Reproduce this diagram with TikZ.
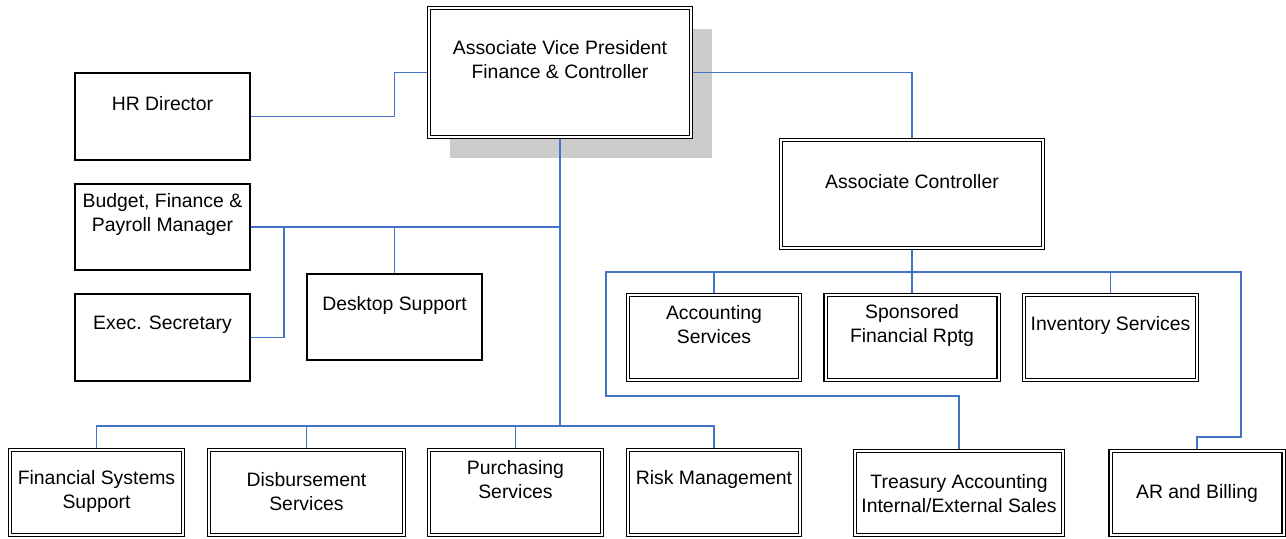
\documentclass[tikz,border=0pt]{standalone}
\usepackage{fontspec}
\setmainfont{Liberation Sans}
\usetikzlibrary{shadows, calc}
\definecolor{orgblue}{RGB}{68,114,196}
\tikzstyle{link}=[draw=orgblue, line width=0.7pt]
\tikzstyle{trunk}=[draw=orgblue, line width=1.1pt]

\begin{document}
\begin{tikzpicture}[x=0.5pt, y=-0.5pt,
  plain/.style={rectangle, draw=black, line width=0.75pt, fill=white,
                inner sep=0pt, minimum width=87.5pt, minimum height=43.5pt},
  dbl/.style={rectangle, draw=black, line width=0.7pt, double=white,
              double distance=1pt, fill=white, inner sep=0pt,
              outer sep=1.2pt, minimum height=42.5pt},
  txt/.style={align=center, inner sep=0pt,
              font=\fontsize{9.7}{12}\selectfont}
]
\useasboundingbox (0,0) rectangle (1286,538);

% Top: AVP with shadow
\node[dbl, minimum width=131pt, minimum height=64.5pt,
      drop shadow={shadow xshift=10.5pt, shadow yshift=-10.5pt,
                   fill=black!20, opacity=1}] (avp) at (560,72.5) {};
\node[txt] (avp_txt) at (560,60) {Associate Vice President\\Finance \& Controller};

% Left column: staff
\node[plain] (hr) at (162.5,116.5) {};
\node[txt] (hr_txt) at (162.5,104) {HR Director};
\node[plain, minimum height=43pt] (budget) at (162.5,227) {};
\node[txt] (budget_txt) at (162.5,214.5) {Budget, Finance \&\\Payroll Manager};
\node[plain] (exec) at (162.5,337.5) {};
\node[txt] (exec_txt) at (162.5,325) {Exec. Secretary};
\node[plain, minimum height=43pt] (desktop) at (394.5,317) {};
\node[txt] (desktop_txt) at (394.5,305) {Desktop Support};

% Right: associate controller and units
\node[dbl, minimum width=131pt, minimum height=54pt] (ac) at (912,194) {};
\node[txt] (ac_txt) at (912,182) {Associate Controller};
\node[dbl, minimum width=86pt] (acct) at (714,337.5) {};
\node[txt] (acct_txt) at (714,325) {Accounting\\Services};
\node[dbl, minimum width=86.5pt] (spons) at (912,337.5) {};
\node[txt] (spons_txt) at (912,325) {Sponsored\\Financial Rptg};
\node[dbl, minimum width=86.5pt] (inv) at (1110.5,337.5) {};
\node[txt] (inv_txt) at (1110.5,325) {Inventory Services};
\node[dbl, minimum width=104pt, minimum height=42pt] (treas) at (959,493) {};
\node[txt] (treas_txt) at (959,494) {Treasury Accounting\\Internal/External Sales};
\node[dbl, minimum width=86.5pt, minimum height=42pt] (ar) at (1197,493) {};
\node[txt] (ar_txt) at (1197,493) {AR and Billing};

% Bottom row
\node[dbl, minimum width=86.5pt] (fss) at (96.5,492.5) {};
\node[txt] (fss_txt) at (96.5,491.5) {Financial Systems\\Support};
\node[dbl, minimum width=97.5pt] (disb) at (306.5,492.5) {};
\node[txt] (disb_txt) at (306.5,491.5) {Disbursement\\Services};
\node[dbl, minimum width=86.5pt] (purch) at (515.5,492.5) {};
\node[txt] (purch_txt) at (515.5,479.5) {Purchasing\\Services};
\node[dbl, minimum width=86pt] (risk) at (714,492.5) {};
\node[txt] (risk_txt) at (714,479) {Risk Management};

% Connectors
\coordinate (split) at (284,227);
\coordinate (hub) at (560,426);
\coordinate (acbus) at (912,272);

\draw[link] (avp.west) -- ++(-32,0) |- (hr.east);
\draw[link] (budget.east) -- (budget.east -| avp.south);
\draw[link] (exec.east) -| (split);
\draw[link] (desktop.north) -- (desktop.north |- budget.east);
\draw[trunk] (avp.south) -- (hub);
\foreach \n in {fss,disb,purch,risk}
  \draw[link] (hub) -| (\n.north);

\draw[link] (avp.east) -| (ac.north);
\draw[link] (ac.south) -- (spons.north);
\foreach \n in {acct,inv}
  \draw[link] (acbus) -| (\n.north);
\draw[link] (acbus) -| (606,396) -| (treas.north);
\draw[link] (acbus) -| (1241,437) -| (ar.north);
\end{tikzpicture}
\end{document}
